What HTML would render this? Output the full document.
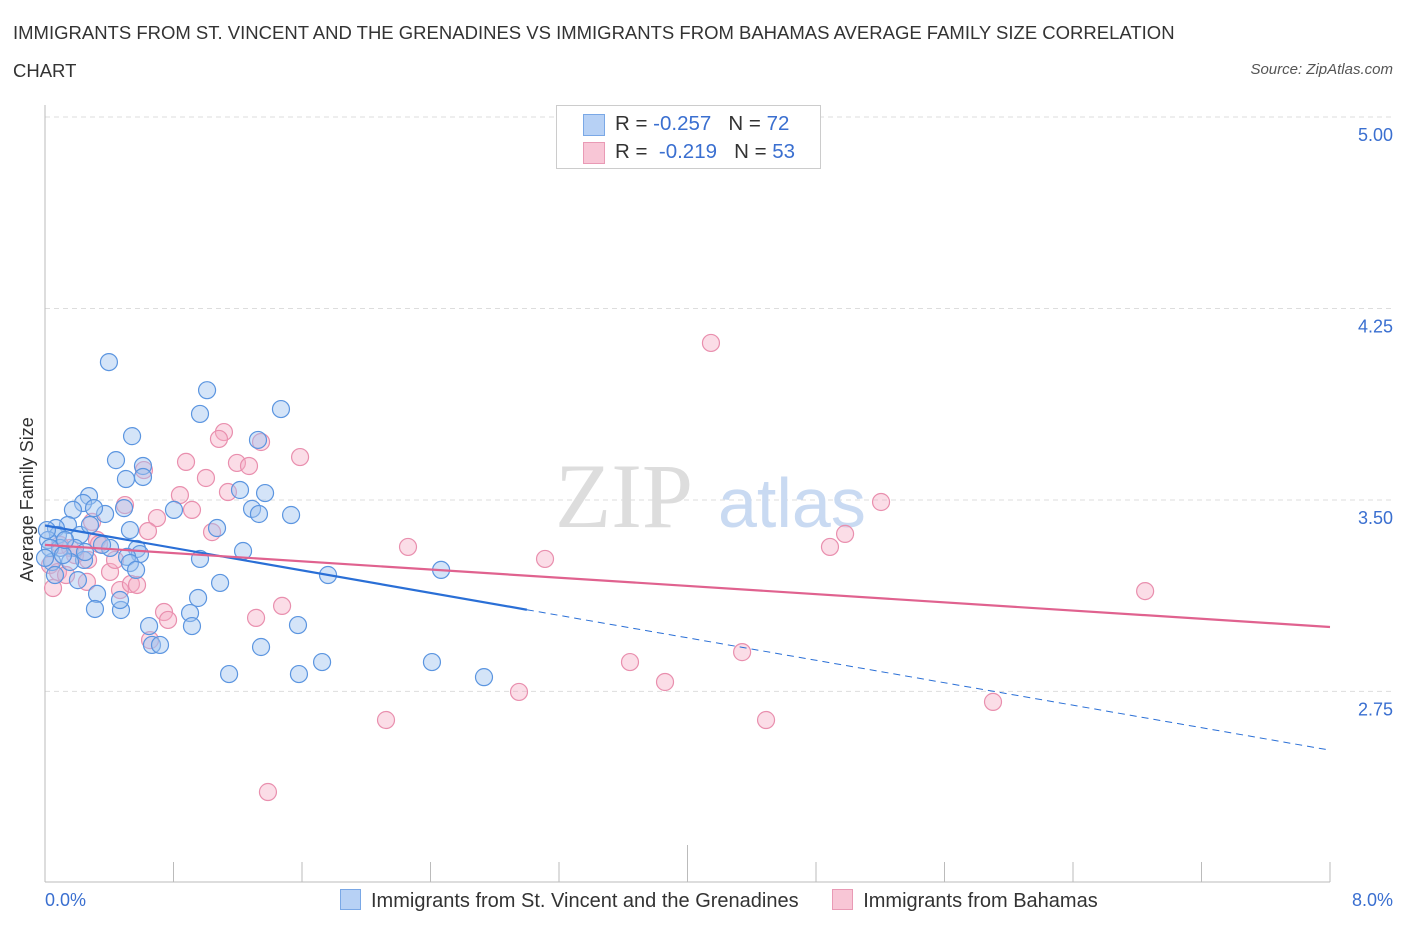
<!DOCTYPE html>
<html><head><meta charset="utf-8"><style>
body{margin:0;background:#fff;font-family:"Liberation Sans",sans-serif;}
#wrap{position:relative;width:1406px;height:930px;overflow:hidden;}
.t{position:absolute;color:#333;font-size:18.5px;}
</style></head><body>
<div id="wrap">
<div class="t" style="left:13px;top:22px;white-space:nowrap">IMMIGRANTS FROM ST. VINCENT AND THE GRENADINES VS IMMIGRANTS FROM BAHAMAS AVERAGE FAMILY SIZE CORRELATION</div>
<div class="t" style="left:13px;top:60px">CHART</div>
<div class="t" style="right:13px;top:61px;font-style:italic;font-size:15px;color:#555">Source: ZipAtlas.com</div>
<svg id="svg" width="1406" height="930" style="position:absolute;left:0;top:0"></svg>
</div>
<script>
const blueX=[0.398,1.009,0.965,1.469,0.542,1.326,0.442,0.610,0.610,0.504,1.370,1.214,0.274,0.237,0.803,0.492,0.374,0.305,0.174,1.289,1.332,1.532,1.071,0.143,0.068,0.081,0.218,0.019,0.093,0.187,0.573,0.591,0.511,1.233,0.965,0.243,0.044,0.156,0.529,0.567,1.762,2.466,0.205,1.090,0.324,0.953,0.311,0.473,0.903,0.648,0.915,1.575,0.666,0.716,1.345,1.146,1.581,1.725,2.409,2.733,0.031,0.112,0.0,0.405,0.125,0.280,0.355,0.062,0.467,0.529,0.012,0.249];
const blueY=[4.04,3.93,3.837,3.856,3.75,3.735,3.656,3.633,3.59,3.582,3.527,3.539,3.515,3.488,3.461,3.468,3.445,3.468,3.461,3.465,3.445,3.441,3.390,3.402,3.390,3.363,3.363,3.343,3.312,3.312,3.308,3.288,3.277,3.300,3.269,3.265,3.257,3.257,3.253,3.226,3.206,3.226,3.186,3.175,3.132,3.116,3.073,3.069,3.057,3.006,3.006,3.010,2.932,2.932,2.924,2.818,2.818,2.865,2.865,2.806,3.312,3.284,3.273,3.312,3.343,3.402,3.324,3.206,3.108,3.382,3.382,3.296];
const pinkX=[4.146,1.114,1.083,1.345,1.588,0.878,1.195,1.270,0.616,1.002,0.840,1.139,0.498,0.915,0.697,0.293,0.641,1.040,2.260,3.113,4.887,4.981,5.205,0.324,0.336,0.156,0.187,0.268,0.031,0.081,0.131,0.405,0.050,0.261,0.467,0.535,0.573,0.741,0.766,1.314,1.476,0.654,3.642,4.340,3.860,2.951,2.123,4.489,5.902,6.849,1.388,0.093,0.436];
const pinkY=[4.115,3.766,3.739,3.727,3.668,3.649,3.645,3.633,3.617,3.586,3.519,3.531,3.480,3.461,3.429,3.414,3.378,3.374,3.316,3.269,3.316,3.367,3.492,3.343,3.327,3.312,3.284,3.265,3.245,3.218,3.206,3.218,3.155,3.179,3.147,3.171,3.167,3.061,3.030,3.038,3.085,2.951,2.865,2.904,2.787,2.748,2.638,2.638,2.709,3.143,2.356,3.324,3.265];
const yTicks=[5.00,4.25,3.50,2.75];
const xTickVals=[0,0.8,1.6,2.4,3.2,4.0,4.8,5.6,6.4,7.2,8.0];
const blueTrend=[3.40,-0.110]; // intercept, slope
const pinkTrend=[3.324,-0.0402];
const NS='http://www.w3.org/2000/svg';
const svg=document.getElementById('svg');
const X=v=>45+v/8*1285;
const Y=v=>117+(5-v)*255.3;
function mk(tag,attrs,parent){const e=document.createElementNS(NS,tag);for(const k in attrs)e.setAttribute(k,attrs[k]);(parent||svg).appendChild(e);return e;}
yTicks.forEach(v=>{
 const l=mk('line',{x1:45,x2:1395,y1:Y(v),y2:Y(v),stroke:'#ddd','stroke-dasharray':'5,4'});
 
 
 const t=mk('text',{x:1393,y:Y(v)+24,'text-anchor':'end','font-size':18,fill:'#3a6fd0'});
 t.textContent=v.toFixed(2);
 
 
});
mk('line',{x1:45,x2:45,y1:105,y2:882,stroke:'#bbb'});
mk('line',{x1:45,x2:1330,y1:882,y2:882,stroke:'#bbb'});
xTickVals.forEach((v,i)=>{
 const l=mk('line',{x1:X(v),x2:X(v),y1:i==5?845:862,y2:882,stroke:'#bbb'});
 
 
});
const wm=mk('text',{x:555,y:527,'font-size':92,'font-family':'Liberation Serif,serif',fill:'#ddd'});wm.textContent='ZIP';


const wm2=mk('text',{x:718,y:527,'font-size':70,fill:'#c9daf2'});wm2.textContent='atlas';


pinkX.forEach((x,i)=>{
 const c=mk('circle',{cx:X(x),cy:Y(pinkY[i]),r:8.5,fill:'rgba(244,170,195,0.4)',stroke:'#e98fae','stroke-width':1.2});
 
 
});
blueX.forEach((x,i)=>{
 const c=mk('circle',{cx:X(x),cy:Y(blueY[i]),r:8.5,fill:'rgba(160,196,240,0.45)',stroke:'#5b95e0','stroke-width':1.2});
 
 
});
const bl=v=>blueTrend[0]+blueTrend[1]*v, pl=v=>pinkTrend[0]+pinkTrend[1]*v;
const t1=mk('line',{x1:X(0),y1:Y(bl(0)),x2:X(3),y2:Y(bl(3)),stroke:'#2a6fd6','stroke-width':2.2});


const t2=mk('line',{x1:X(3),y1:Y(bl(3)),x2:X(8),y2:Y(bl(8)),stroke:'#2a6fd6','stroke-width':1,'stroke-dasharray':'7,5'});


const t3=mk('line',{x1:X(0),y1:Y(pl(0)),x2:X(8),y2:Y(pl(8)),stroke:'#e0628f','stroke-width':2.2});


</script>
<div style="position:absolute;left:556px;top:105px;width:263px;height:62px;border:1px solid #ccc;background:#fff;font-size:20.5px;color:#333">
 <div style="position:absolute;left:26px;top:8px;width:20px;height:20px;background:#b7d1f5;border:1px solid #7aa8e6"></div>
 <div style="position:absolute;left:58px;top:6px;white-space:nowrap">R = <span style="color:#3a6fd0">-0.257</span>&nbsp;&nbsp;&nbsp;N = <span style="color:#3a6fd0">72</span></div>
 <div style="position:absolute;left:26px;top:36px;width:20px;height:20px;background:#f8c6d6;border:1px solid #e99ab5"></div>
 <div style="position:absolute;left:58px;top:34px;white-space:nowrap">R = &nbsp;<span style="color:#3a6fd0">-0.219</span>&nbsp;&nbsp;&nbsp;N = <span style="color:#3a6fd0">53</span></div>
</div>
<div style="position:absolute;left:45px;top:890px;font-size:18px;color:#3a6fd0">0.0%</div>
<div style="position:absolute;right:13px;top:890px;font-size:18px;color:#3a6fd0">8.0%</div>
<div style="position:absolute;left:17px;top:582px;transform:rotate(-90deg);transform-origin:0 0;font-size:18px;color:#333;white-space:nowrap">Average Family Size</div>
<div style="position:absolute;left:340px;top:889px;font-size:20px;color:#333;white-space:nowrap">
 <span style="display:inline-block;width:19px;height:19px;background:#b7d1f5;border:1px solid #7aa8e6;vertical-align:-3px;margin-right:10px"></span><span>Immigrants from St. Vincent and the Grenadines</span>
 <span style="display:inline-block;width:19px;height:19px;background:#f8c6d6;border:1px solid #e99ab5;vertical-align:-3px;margin:0 10px 0 28px"></span><span>Immigrants from Bahamas</span>
</div>
</body></html>
